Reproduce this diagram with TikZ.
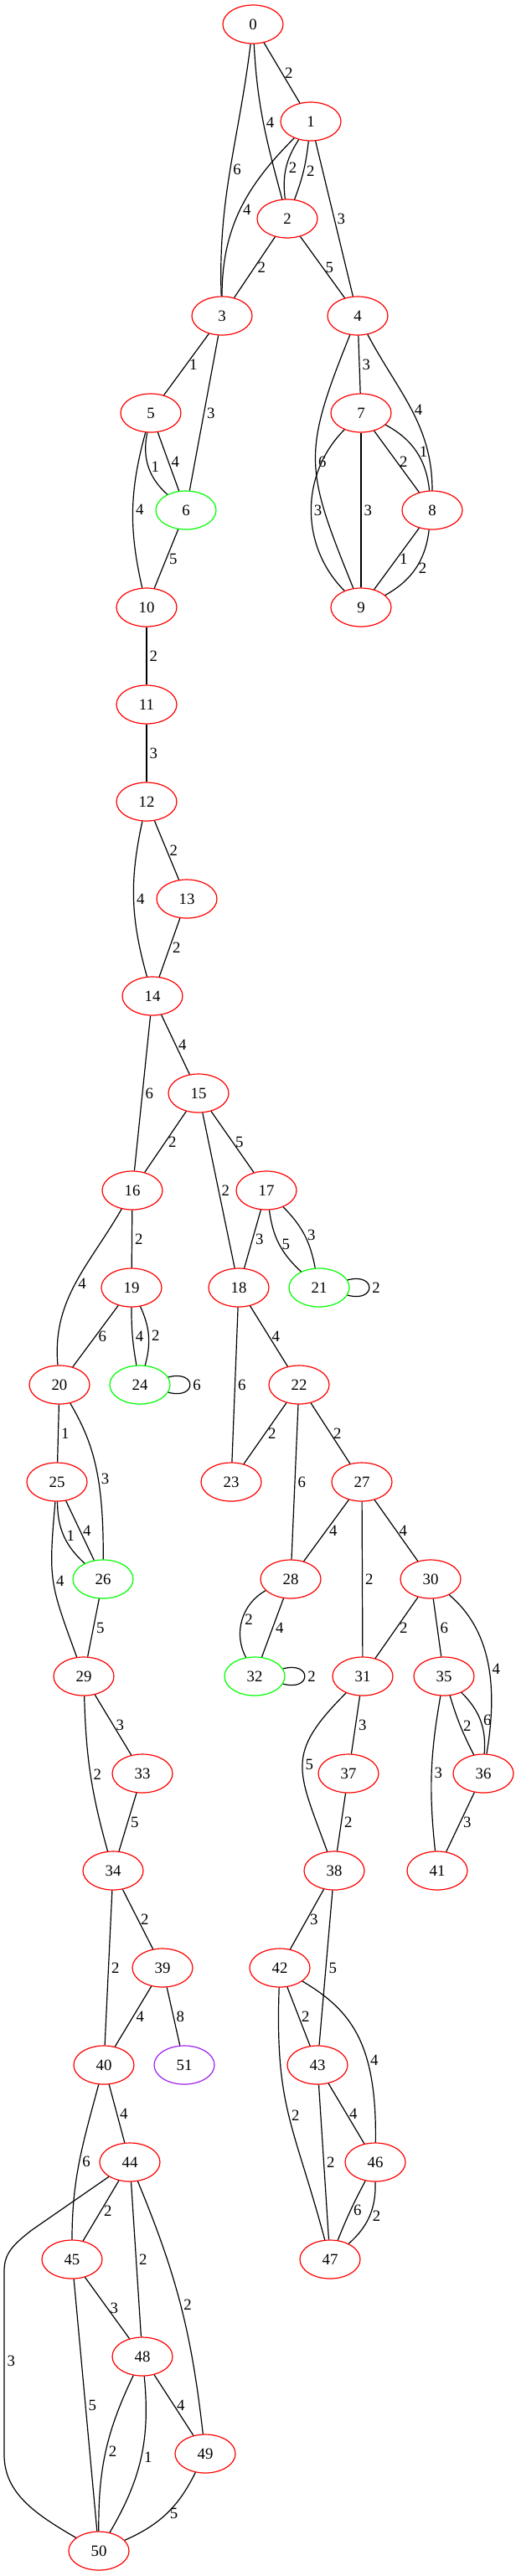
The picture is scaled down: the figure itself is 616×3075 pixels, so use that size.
\documentclass[tikz,border=0pt]{standalone}
\usepackage{fontspec}
\setmainfont{Liberation Serif}
\usetikzlibrary{shapes.geometric}
\definecolor{violet}{RGB}{160,32,240}

\begin{document}
\begin{tikzpicture}[x=0.5pt, y=-0.5pt, font=\fontsize{9.4}{11}\selectfont]
 \tikzstyle{sommet}=[ellipse, draw=red, line width=0.6pt, minimum width=36pt, minimum height=23pt, inner sep=0pt]
 \tikzstyle{vert}=[draw=green]
 \tikzstyle{arete}=[line width=0.6pt]
 \tikzstyle{poids}=[right, inner sep=1.5pt]
 \useasboundingbox (0,0) rectangle (616,3075);
 %
 \node[sommet] (n0) at (302, 29) {0};
 \node[sommet] (n1) at (371, 145) {1};
 \node[sommet] (n2) at (343, 261) {2};
 \node[sommet] (n3) at (265, 377) {3};
 \node[sommet] (n4) at (427, 377) {4};
 \node[sommet] (n5) at (180, 493) {5};
 \node[sommet, vert] (n6) at (222, 609) {6};
 \node[sommet] (n7) at (431, 493) {7};
 \node[sommet] (n8) at (516, 609) {8};
 \node[sommet] (n9) at (431, 725) {9};
 \node[sommet] (n10) at (175, 725) {10};
 \node[sommet] (n11) at (175, 841) {11};
 \node[sommet] (n12) at (175, 957) {12};
 \node[sommet] (n13) at (223, 1073) {13};
 \node[sommet] (n14) at (182, 1189) {14};
 \node[sommet] (n15) at (237, 1305) {15};
 \node[sommet] (n16) at (158, 1421) {16};
 \node[sommet] (n17) at (318, 1421) {17};
 \node[sommet] (n18) at (285, 1537) {18};
 \node[sommet] (n19) at (157, 1537) {19};
 \node[sommet, vert] (n21) at (381, 1537) {21};
 \node[sommet] (n20) at (71, 1653) {20};
 \node[sommet, vert] (n24) at (167, 1653) {24};
 \node[sommet] (n22) at (357, 1653) {22};
 \node[sommet] (n25) at (68, 1769) {25};
 \node[sommet] (n23) at (276, 1769) {23};
 \node[sommet] (n27) at (432, 1769) {27};
 \node[sommet, vert] (n26) at (123, 1885) {26};
 \node[sommet] (n28) at (347, 1885) {28};
 \node[sommet] (n30) at (514, 1885) {30};
 \node[sommet] (n29) at (100, 2001) {29};
 \node[sommet, vert] (n32) at (304, 2001) {32};
 \node[sommet] (n31) at (433, 2001) {31};
 \node[sommet] (n35) at (530, 2001) {35};
 \node[sommet] (n33) at (170, 2117) {33};
 \node[sommet] (n37) at (416, 2117) {37};
 \node[sommet] (n36) at (577, 2117) {36};
 \node[sommet] (n34) at (135, 2233) {34};
 \node[sommet] (n38) at (399, 2233) {38};
 \node[sommet] (n41) at (522, 2233) {41};
 \node[sommet] (n39) at (194, 2349) {39};
 \node[sommet] (n42) at (334, 2349) {42};
 \node[sommet] (n40) at (124, 2465) {40};
 \node[sommet, draw=violet] (n51) at (220, 2465) {51};
 \node[sommet] (n43) at (379, 2465) {43};
 \node[sommet] (n44) at (155, 2581) {44};
 \node[sommet] (n46) at (448, 2581) {46};
 \node[sommet] (n45) at (86, 2697) {45};
 \node[sommet] (n47) at (394, 2697) {47};
 \node[sommet] (n48) at (170, 2813) {48};
 \node[sommet] (n49) at (245, 2929) {49};
 \node[sommet] (n50) at (118, 3045) {50};
 %%
 \draw[arete] (n0)--(n1) node[poids, midway]{2};
 \draw[arete] (n0) to[out=-87, in=105] node[poids]{4} (n2);
 \draw[arete] (n0) to[out=-97, in=92] node[poids]{6} (n3);
 \draw[arete] (n1) to[bend right=20] node[poids]{2} (n2);
 \draw[arete] (n1) to[bend left=7] node[poids]{2} (n2);
 \draw[arete] (n1) to[out=-135, in=90] node[poids]{4} (n3);
 \draw[arete] (n1)--(n4) node[poids, midway]{3};
 \draw[arete] (n2)--(n3) node[poids, midway]{2};
 \draw[arete] (n2)--(n4) node[poids, midway]{5};
 \draw[arete] (n3)--(n5) node[poids, midway]{1};
 \draw[arete] (n3)--(n6) node[poids, midway]{3};
 \draw[arete] (n4)--(n7) node[poids, midway]{3};
 \draw[arete] (n4) to[out=-62, in=90] node[poids]{4} (n8);
 \draw[arete] (n4) to[out=-112, in=112, looseness=1.3] node[poids]{6} (n9);
 \draw[arete] (n5) to[bend right=30] node[poids]{1} (n6);
 \draw[arete] (n5)--(n6) node[poids, midway]{4};
 \draw[arete] (n5) to[bend right=14] node[poids]{4} (n10);
 \draw[arete] (n6)--(n10) node[poids, midway]{5};
 \draw[arete] (n7)--(n8) node[poids, midway]{2};
 \draw[arete] (n7) to[bend left=28] node[poids]{1} (n8);
 \draw[arete] (n7) to[bend right=45] node[poids]{3} (n9);
 \draw[arete] (n7)--(n9) node[poids, midway]{3};
 \draw[arete] (n8)--(n9) node[poids, midway]{1};
 \draw[arete] (n8) to[bend left=27] node[poids]{2} (n9);
 \draw[arete] (n10)--(n11) node[poids, midway]{2};
 \draw[arete] (n11)--(n12) node[poids, midway]{3};
 \draw[arete] (n12)--(n13) node[poids, midway]{2};
 \draw[arete] (n12) to[bend right=14] node[poids]{4} (n14);
 \draw[arete] (n13)--(n14) node[poids, midway]{2};
 \draw[arete] (n14)--(n15) node[poids, midway]{4};
 \draw[arete] (n14)--(n16) node[poids, midway]{6};
 \draw[arete] (n15)--(n16) node[poids, midway]{2};
 \draw[arete] (n15)--(n17) node[poids, midway]{5};
 \draw[arete] (n15)--(n18) node[poids, midway]{2};
 \draw[arete] (n16)--(n19) node[poids, midway]{2};
 \draw[arete] (n16) to[out=-120, in=95] node[poids]{4} (n20);
 \draw[arete] (n17)--(n18) node[poids, midway]{3};
 \draw[arete] (n17) to[bend right=20] node[poids]{5} (n21);
 \draw[arete] (n17) to[bend left=17] node[poids]{3} (n21);
 \draw[arete] (n21) to[out=15, in=-15, distance=18pt] node[poids]{2} (n21);
 \draw[arete] (n18)--(n22) node[poids, midway]{4};
 \draw[arete] (n18)--(n23) node[poids, midway]{6};
 \draw[arete] (n19)--(n20) node[poids, midway]{6};
 \draw[arete] (n19) to[bend right=5] node[poids]{4} (n24);
 \draw[arete] (n19) to[bend left=20] node[poids]{2} (n24);
 \draw[arete] (n24) to[out=15, in=-15, distance=18pt] node[poids]{6} (n24);
 \draw[arete] (n20)--(n25) node[poids, midway]{1};
 \draw[arete] (n20) .. controls (110,1720) and (124,1760) .. node[poids, pos=0.6]{3} (n26);
 \draw[arete] (n22)--(n23) node[poids, midway]{2};
 \draw[arete] (n22)--(n27) node[poids, midway]{2};
 \draw[arete] (n22)--(n28) node[poids, midway]{6};
 \draw[arete] (n25) to[bend right=24] node[poids]{1} (n26);
 \draw[arete] (n25)--(n26) node[poids, midway]{4};
 \draw[arete] (n25) to[out=-95, in=110, looseness=1.3] node[poids]{4} (n29);
 \draw[arete] (n26)--(n29) node[poids, midway]{5};
 \draw[arete] (n27)--(n28) node[poids, midway]{4};
 \draw[arete] (n27)--(n31) node[poids, midway]{2};
 \draw[arete] (n27)--(n30) node[poids, midway]{4};
 \draw[arete] (n28) to[bend right=45] node[poids]{2} (n32);
 \draw[arete] (n28)--(n32) node[poids, midway]{4};
 \draw[arete] (n32) to[out=15, in=-15, distance=18pt] node[poids]{2} (n32);
 \draw[arete] (n30)--(n31) node[poids, midway]{2};
 \draw[arete] (n30)--(n35) node[poids, midway]{6};
 \draw[arete] (n30) .. controls (585,1945) and (595,2010) .. node[poids, pos=0.55]{4} (n36);
 \draw[arete] (n29)--(n33) node[poids, midway]{3};
 \draw[arete] (n29) to[bend right=7] node[poids]{2} (n34);
 \draw[arete] (n31)--(n37) node[poids, midway]{3};
 \draw[arete] (n31) to[out=-135, in=110, looseness=1.4] node[poids]{5} (n38);
 \draw[arete] (n35) to[bend right=5] node[poids]{2} (n36);
 \draw[arete] (n35) to[bend left=25] node[poids]{6} (n36);
 \draw[arete] (n35) to[bend right=8] node[poids]{3} (n41);
 \draw[arete] (n36)--(n41) node[poids, midway]{3};
 \draw[arete] (n33)--(n34) node[poids, midway]{5};
 \draw[arete] (n37)--(n38) node[poids, midway]{2};
 \draw[arete] (n34)--(n39) node[poids, midway]{2};
 \draw[arete] (n34)--(n40) node[poids, midway]{2};
 \draw[arete] (n38)--(n42) node[poids, midway]{3};
 \draw[arete] (n38)--(n43) node[poids, midway]{5};
 \draw[arete] (n39)--(n40) node[poids, midway]{4};
 \draw[arete] (n39)--(n51) node[poids, midway]{8};
 \draw[arete] (n42)--(n43) node[poids, midway]{2};
 \draw[arete] (n42) .. controls (420,2400) and (450,2440) .. node[poids, pos=0.65]{4} (n46);
 \draw[arete] (n42) to[out=-92, in=105, looseness=1.2] node[poids]{2} (n47);
 \draw[arete] (n40)--(n44) node[poids, midway]{4};
 \draw[arete] (n40) to[out=-105, in=90] node[poids]{6} (n45);
 \draw[arete] (n43)--(n46) node[poids, midway]{4};
 \draw[arete] (n43)--(n47) node[poids, midway]{2};
 \draw[arete] (n46) to[bend right=3] node[poids]{6} (n47);
 \draw[arete] (n46) to[bend left=25] node[poids]{2} (n47);
 \draw[arete] (n44)--(n45) node[poids, midway]{2};
 \draw[arete] (n44)--(n48) node[poids, midway]{2};
 \draw[arete] (n44) to[bend left=8] node[poids]{2} (n49);
 \draw[arete] (n44) -- (38,2662) .. controls (12,2682) and (5,2692) .. (5,2712) -- node[poids, pos=0.49]{3} (5,2930) .. controls (5,2975) and (40,3000) .. (n50);
 \draw[arete] (n45)--(n48) node[poids, midway]{3};
 \draw[arete] (n45)--(n50) node[poids, midway]{5};
 \draw[arete] (n48)--(n49) node[poids, midway]{4};
 \draw[arete] (n48) to[bend right=13] node[poids]{2} (n50);
 \draw[arete] (n48) to[bend left=18] node[poids]{1} (n50);
 \draw[arete] (n49) to[bend left=20] node[poids]{5} (n50);
\end{tikzpicture}
\end{document}
